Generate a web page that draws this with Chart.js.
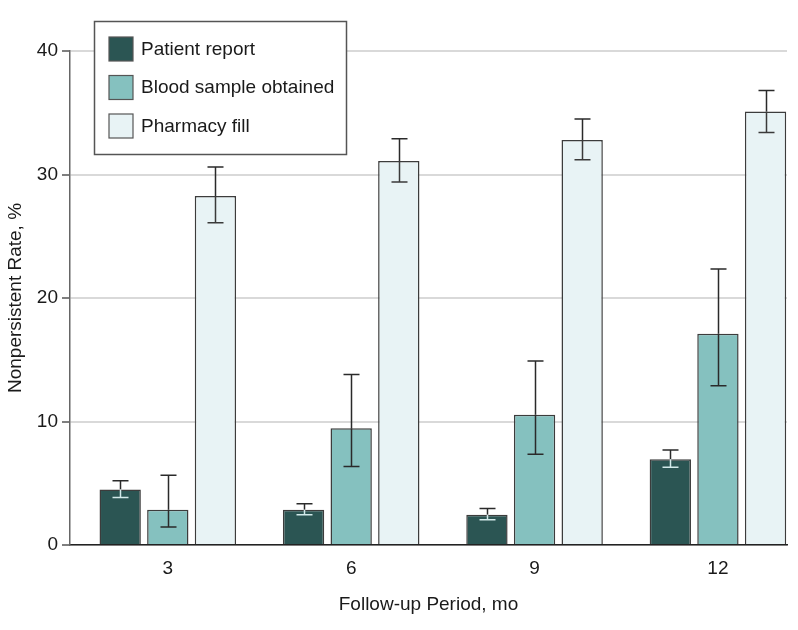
<!DOCTYPE html>
<html lang="en">
<head>
    <meta charset="UTF-8">
    <title>Nonpersistent Rate by Follow-up Period</title>
    <script src="https://cdn.jsdelivr.net/npm/chart.js"></script>
    <style>
        body {
            margin: 0;
            background: #ffffff;
        }
        #wrap {
            width: 798px;
            height: 630px;
        }
    </style>
</head>
<body>
    <div id="wrap">
        <canvas id="chart" width="798" height="630"></canvas>
    </div>

    <script>
        // follow-up months
        const periods = [3, 6, 9, 12];
        const seriesNames = ["Patient report", "Blood sample obtained", "Pharmacy fill"];

        // nonpersistent rate, %
        const patientReport = [4.5, 2.85, 2.45, 6.95];
        const bloodSample = [2.85, 9.45, 10.55, 17.1];
        const pharmacyFill = [28.25, 31.1, 32.8, 35.1];

        // 95% CI bounds
        const patientLow = [3.85, 2.45, 2.05, 6.3];
        const patientHigh = [5.2, 3.35, 2.95, 7.7];
        const bloodLow = [1.45, 6.35, 7.35, 12.9];
        const bloodHigh = [5.65, 13.8, 14.9, 22.35];
        const pharmacyLow = [26.1, 29.4, 31.2, 33.4];
        const pharmacyHigh = [30.6, 32.9, 34.5, 36.8];

        const yTicks = [0, 10, 20, 30, 40];

        const FONT = "'Liberation Sans', Arial, sans-serif";
        const fills = ["#2b5553", "#85c1bf", "#e8f3f5"];
        const inside = ["#d3eaea", "#2a2a2a", "#3a3a3a"];

        const values = [patientReport, bloodSample, pharmacyFill];
        const lows = [patientLow, bloodLow, pharmacyLow];
        const highs = [patientHigh, bloodHigh, pharmacyHigh];

        const errorBars = {
            id: "errorBars",
            afterDatasetsDraw(chart) {
                const c = chart.ctx;
                const y = chart.scales.y;
                c.save();
                c.lineWidth = 1.5;
                chart.data.datasets.forEach((ds, i) => {
                    const meta = chart.getDatasetMeta(i);
                    meta.data.forEach((bar, j) => {
                        const x = Math.round(bar.x) + 0.5;
                        const top = y.getPixelForValue(highs[i][j]);
                        const bot = y.getPixelForValue(lows[i][j]);
                        const mid = bar.y;
                        // upper part, outside the bar
                        c.strokeStyle = "#2a2a2a";
                        c.beginPath();
                        c.moveTo(x, top); c.lineTo(x, mid);
                        c.moveTo(x - 8, top); c.lineTo(x + 8, top);
                        c.stroke();
                        // lower part, inside the bar
                        c.strokeStyle = inside[i];
                        c.beginPath();
                        c.moveTo(x, mid); c.lineTo(x, bot);
                        c.moveTo(x - 8, bot); c.lineTo(x + 8, bot);
                        c.stroke();
                    });
                });
                c.restore();
            }
        };

        const boxLegend = {
            id: "boxLegend",
            afterDraw(chart) {
                const c = chart.ctx;
                c.save();
                c.fillStyle = "#ffffff";
                c.fillRect(94, 21, 253, 134);
                c.strokeStyle = "#555555";
                c.lineWidth = 1.5;
                c.strokeRect(94.5, 21.5, 252, 133);
                c.font = "19px " + FONT;
                c.textBaseline = "middle";
                chart.data.datasets.forEach((ds, i) => {
                    const top = 37 + i * 38.5;
                    c.fillStyle = ds.backgroundColor;
                    c.fillRect(109, top, 24, 24);
                    c.strokeStyle = "#555555";
                    c.lineWidth = 1.2;
                    c.strokeRect(109, top, 24, 24);
                    c.fillStyle = "#1a1a1a";
                    c.fillText(ds.label, 141, top + 12.5);
                });
                c.restore();
            }
        };

        const datasets = seriesNames.map((name, i) => ({
            label: name,
            data: periods.map((p, j) => ({ x: p, y: values[i][j] })),
            backgroundColor: fills[i],
            borderColor: "#3c3c3c",
            borderWidth: 1.5,
            categoryPercentage: 0.779,
            barPercentage: 0.868
        }));

        new Chart(document.getElementById("chart"), {
            type: "bar",
            data: { datasets },
            options: {
                responsive: false,
                animation: false,
                layout: { padding: { left: 0, right: 11, top: 51, bottom: 0 } },
                plugins: {
                    legend: { display: false },
                    tooltip: { enabled: false }
                },
                scales: {
                    x: {
                        type: "linear",
                        offset: false,
                        min: 1.4,
                        max: 13.13,
                        afterBuildTicks: s => { s.ticks = periods.map(v => ({ value: v })); },
                        afterFit: s => { s.height = 85; },
                        grid: { display: false, drawTicks: false, offset: false },
                        border: { color: "#222222", width: 1.5 },
                        ticks: {
                            color: "#1a1a1a",
                            font: { family: FONT, size: 19 },
                            padding: 12,
                            callback: v => String(v)
                        },
                        title: {
                            display: true,
                            text: "Follow-up Period, mo",
                            color: "#1a1a1a",
                            font: { family: FONT, size: 19 },
                            padding: { top: 0, bottom: 14 }
                        }
                    },
                    y: {
                        min: 0,
                        max: 40,
                        afterBuildTicks: s => { s.ticks = yTicks.map(v => ({ value: v })); },
                        afterFit: s => { s.width = 70; },
                        grid: {
                            color: "#d9d9d9",
                            lineWidth: 2,
                            tickColor: "#555555",
                            tickLength: 8,
                            tickWidth: 1.5
                        },
                        border: { color: "#666666", width: 1.5 },
                        ticks: {
                            color: "#1a1a1a",
                            font: { family: FONT, size: 19 },
                            padding: 4
                        },
                        title: {
                            display: true,
                            text: "Nonpersistent Rate, %",
                            color: "#1a1a1a",
                            font: { family: FONT, size: 19 },
                            padding: { top: 4, bottom: 0 }
                        }
                    }
                }
            },
            plugins: [errorBars, boxLegend]
        });
    </script>
</body>
</html>
